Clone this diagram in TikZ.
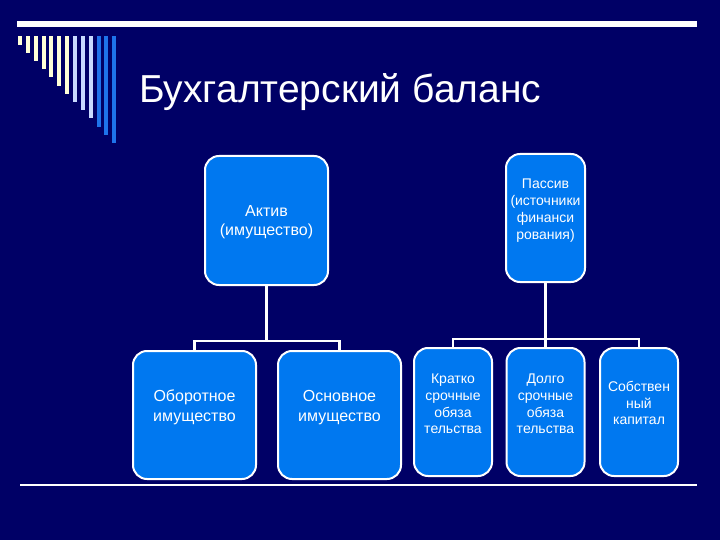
\documentclass[tikz,border=0pt]{standalone}
\usepackage{fontspec}
\setmainfont{Liberation Sans}
\definecolor{bgnavy}{RGB}{0,0,102}
\definecolor{boxblue}{RGB}{0,120,240}
\definecolor{cream}{RGB}{255,255,215}
\definecolor{paleblue}{RGB}{200,218,255}
\definecolor{stripeblue}{RGB}{30,115,235}
\begin{document}
\begin{tikzpicture}[x=1pt,y=-1pt,
  box/.style={draw=white, line width=2pt, fill=boxblue, rounded corners=14pt, inner sep=0pt},
  btext/.style={text=white, align=center, inner sep=0pt},
  bigtxt/.style={btext, font=\fontsize{16}{19.5}\selectfont},
  smalltxt/.style={btext, font=\fontsize{14}{16.8}\selectfont},
  conn/.style={draw=white, line width=2.5pt}]
\useasboundingbox[fill=bgnavy] (0,0) rectangle (720,540);
% top bar
\fill[white] (17,21) rectangle (697,27);
% stripes
\foreach \i in {1,...,13}{
  \pgfmathsetmacro{\cx}{20+7.85*(\i-1)}
  \pgfmathsetmacro{\by}{44.7+8.2*(\i-1)}
  \ifnum\i<8 \def\sc{cream}\else\ifnum\i<11 \def\sc{paleblue}\else\def\sc{stripeblue}\fi\fi
  \fill[\sc] (\cx-2,36) rectangle (\cx+2,\by);
}
% title
\node[anchor=base west, inner sep=0pt, text=white, font=\fontsize{39}{47}\selectfont] (title) at (139,103) {Бухгалтерский баланс};
% bottom line
\draw[white, line width=1.2pt] (20,485) -- (697,485);
% boxes
\node[box, minimum width=123pt, minimum height=129pt,
  label={[bigtxt, yshift=-1.5pt]center:{Актив\\(имущество)}}] (aktiv) at (266.5,220.5) {};
\node[box, minimum width=79pt, minimum height=128pt,
  label={[smalltxt, yshift=7.5pt]center:{Пассив\\(источники\\финанси\\рования)}}] (passiv) at (545.5,218) {};
\node[box, minimum width=123pt, minimum height=128pt,
  label={[bigtxt, yshift=7.5pt]center:{Оборотное\\имущество}}] (obor) at (194.5,415) {};
\node[box, minimum width=123pt, minimum height=128pt,
  label={[bigtxt, yshift=7.5pt]center:{Основное\\имущество}}] (osn) at (339.5,415) {};
\node[box, minimum width=78pt, minimum height=128pt,
  label={[smalltxt, yshift=8pt]center:{Кратко\\срочные\\обяза\\тельства}}] (kratko) at (453,412) {};
\node[box, minimum width=78pt, minimum height=128pt,
  label={[smalltxt, yshift=8pt]center:{Долго\\срочные\\обяза\\тельства}}] (dolgo) at (545.5,412) {};
\node[box, minimum width=78pt, minimum height=128pt,
  label={[smalltxt, yshift=9pt]center:{Собствен\\ный\\капитал}}] (sobst) at (639,412) {};
% connectors
\coordinate (abus) at (266.5,341);
\coordinate (pbus) at (545.5,339);
\draw[conn] (aktiv.south) -- (abus) -| (obor.north);
\draw[conn] (abus) -| (osn.north);
\draw[conn] (passiv.south) -- (pbus) -| (kratko.north);
\draw[conn] (pbus) -- (dolgo.north);
\draw[conn] (pbus) -| (sobst.north);
\end{tikzpicture}
\end{document}
